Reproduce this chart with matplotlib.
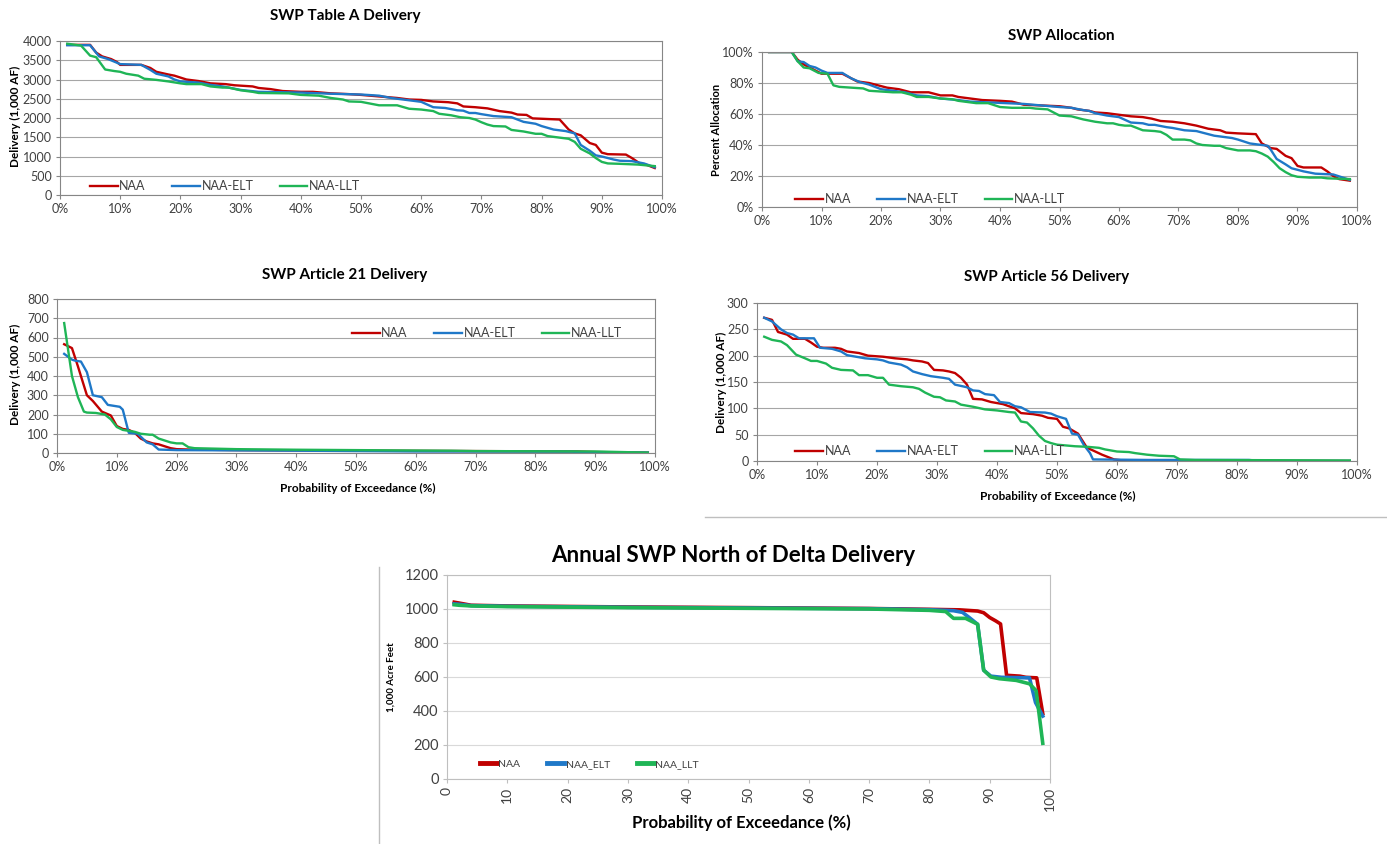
import matplotlib
matplotlib.use("Agg")
import matplotlib.pyplot as plt
from matplotlib.lines import Line2D
from matplotlib.ticker import FuncFormatter, MultipleLocator

plt.rcParams['font.family'] = ['Lato', 'DejaVu Sans']

RED = '#C00000'
BLUE = '#1F78C8'
GREEN = '#1FB556'
TICKC = '#404040'

# ---------------- Data: SWP Table A Delivery (1,000 AF) ----------------
ta_naa_x = [1.2, 5, 6, 7, 8.5, 9.5, 10, 13.5, 15, 16, 18, 19, 20, 21, 23, 25, 27.5, 29, 32, 33, 35, 37, 40, 42, 45, 48, 50, 53, 56, 58, 60, 62, 64.5, 66, 67, 69, 71, 73, 75, 76, 77.5, 78.5, 80, 83, 84.5, 85.5, 86.5, 88, 89, 90, 91, 94, 95, 96.5, 97.5, 98.8]
ta_naa_y = [3900, 3900, 3700, 3600, 3530, 3450, 3380, 3380, 3300, 3200, 3130, 3100, 3050, 3000, 2960, 2900, 2880, 2850, 2820, 2780, 2750, 2700, 2680, 2680, 2640, 2620, 2600, 2560, 2520, 2480, 2470, 2430, 2410, 2380, 2300, 2280, 2250, 2180, 2140, 2090, 2080, 1990, 1980, 1960, 1700, 1600, 1550, 1350, 1300, 1100, 1060, 1050, 960, 800, 780, 700]
ta_elt_x = [1.2, 5, 6.5, 8, 10, 13.5, 15, 16, 18, 19, 20, 23, 25, 27, 30, 33, 40, 45, 50, 53, 55, 58, 60, 62, 64, 66, 67, 68, 69, 70, 72, 75, 77, 79, 80, 82, 84, 85.5, 86.5, 88, 89, 90, 92, 93, 95, 97, 98.8]
ta_elt_y = [3890, 3890, 3600, 3530, 3400, 3380, 3250, 3150, 3080, 3000, 2950, 2920, 2860, 2820, 2730, 2680, 2660, 2630, 2610, 2580, 2520, 2460, 2420, 2280, 2260, 2200, 2190, 2130, 2130, 2100, 2050, 2020, 1900, 1850, 1790, 1700, 1660, 1600, 1300, 1150, 1030, 1000, 920, 890, 880, 820, 720]
ta_llt_x = [1.2, 3.5, 5, 6, 7.5, 9, 10, 11, 13, 14, 16, 18, 20, 21, 23.5, 25, 27, 28, 30, 32, 33, 38, 40, 43, 45, 47, 48, 50, 52, 53, 56, 58, 60, 61, 62, 63, 65, 66.5, 68, 69, 70, 71, 72, 74, 75, 77, 79, 80, 81, 83, 84.5, 85.5, 86.5, 88, 89, 90, 91, 93, 96, 98.8]
ta_llt_y = [3930, 3880, 3620, 3580, 3260, 3220, 3200, 3150, 3100, 3020, 2990, 2950, 2900, 2880, 2880, 2820, 2790, 2790, 2720, 2680, 2650, 2640, 2600, 2580, 2520, 2480, 2430, 2420, 2360, 2330, 2330, 2240, 2220, 2200, 2180, 2110, 2070, 2020, 2000, 1960, 1890, 1830, 1790, 1780, 1690, 1650, 1590, 1590, 1530, 1490, 1460, 1380, 1200, 1080, 960, 860, 820, 810, 790, 750]

# ---------------- Data: SWP Allocation (%) ----------------
al_naa_x = [1.2, 5, 6, 7, 8, 9.5, 10, 13.5, 15, 16, 18, 19, 20, 21, 23, 25, 28, 30, 32, 33, 35, 37, 40, 42, 44, 47, 50, 52, 53, 55, 56, 58, 60, 62, 64, 65.5, 67, 69, 71, 73, 75, 77, 78, 80, 83, 84, 85.5, 86.5, 88, 89, 90, 91, 94, 95, 96, 97, 98.8]
al_naa_y = [100, 100, 95, 92, 90, 87, 86, 86, 83, 81, 80, 79, 78, 77, 76, 74, 74, 72, 72, 71, 70, 69, 68.5, 68, 66, 65.5, 65, 64, 63, 62, 61, 60.5, 59.5, 58.5, 58, 57, 55.5, 55, 54, 52.5, 50.5, 49.5, 48, 47.5, 47, 41, 38, 37.5, 33, 31.5, 26.5, 25.5, 25.5, 23, 20, 18, 17]
al_elt_x = [1.2, 5, 6, 7, 8, 9, 10, 11, 13.5, 15, 16.5, 18, 20, 22, 24, 26, 28, 30, 33, 35, 38, 41, 44, 47, 50, 52, 54, 55, 56, 58, 60, 62, 64, 65, 66, 68, 69, 71, 73, 74, 76, 78, 79, 80, 82, 84, 85, 85.5, 86.5, 88, 89, 91, 93, 96, 98.8]
al_elt_y = [100, 100, 94, 93.5, 91, 90, 88, 86.5, 86.5, 83, 80.5, 79, 76, 75, 74, 72, 71.5, 70, 69, 68, 67.5, 67, 66.5, 65.5, 64.5, 64, 62.5, 62, 60.5, 59, 58, 54.5, 54, 53, 53, 51.5, 51, 49.5, 49, 48, 46, 45, 44.5, 43.5, 41, 40, 39.5, 37, 31, 27.5, 25, 23, 21.5, 21, 17.5]
al_llt_x = [1.2, 5, 6, 7, 8, 9.5, 11, 12, 13, 15, 17, 18, 20, 22, 23.5, 25, 26, 28, 30, 32, 33, 35, 36, 38, 40, 42, 45, 46, 48, 49, 50, 52, 54, 56, 58, 59, 60, 61, 62, 63, 64, 66, 67, 68, 69, 71, 72, 73, 74, 76, 77, 78, 80, 82, 83, 84, 85, 86, 87, 88, 89, 90, 92, 94, 95, 98.8]
al_llt_y = [100, 100, 94, 90, 89.5, 86.5, 86, 78.5, 77.5, 77, 76.5, 75, 74.5, 74, 74, 72.5, 71, 71, 70, 69.5, 68.5, 67.5, 67, 67, 64.5, 64, 64, 63.5, 63, 61, 59, 58.5, 56.5, 55, 54, 54, 53, 52.5, 52.5, 51, 49.5, 49, 48.5, 46.5, 43.5, 43.5, 43, 41, 40, 39.5, 39.5, 38, 36.5, 36.5, 36, 34.5, 32.5, 29, 25, 22.5, 20.5, 19.5, 19, 19, 18.5, 18]

# ---------------- Data: SWP Article 21 Delivery (1,000 AF) ----------------
a21_naa_x = [1.2, 2.5, 3.5, 5, 6, 7.5, 9, 10, 11, 12, 13, 14, 15, 16, 17, 18, 19, 20, 22, 30, 50, 70, 87, 90, 98.8]
a21_naa_y = [565, 545, 450, 300, 270, 215, 195, 140, 125, 120, 105, 75, 60, 50, 45, 35, 25, 20, 18, 15, 12, 10, 8, 5, 2]
a21_elt_x = [1.2, 2.5, 3, 4, 5, 6, 7.5, 8.5, 9.5, 10.5, 11, 12, 13.5, 15, 16, 17, 20, 40, 50, 60, 86, 88, 98.8]
a21_elt_y = [515, 485, 480, 475, 420, 300, 290, 250, 245, 240, 225, 105, 100, 55, 45, 18, 15, 12, 10, 8, 7, 4, 2]
a21_llt_x = [1.2, 2.5, 3.5, 4.5, 5, 6.5, 8, 9, 10, 11, 12, 13, 14, 15.5, 16, 17, 18, 19, 20, 21, 22, 23, 30, 40, 50, 60, 66, 70, 90, 98.8]
a21_llt_y = [675, 400, 290, 215, 210, 208, 200, 175, 135, 120, 115, 110, 100, 95, 95, 75, 65, 55, 50, 50, 30, 25, 20, 17, 15, 13, 12, 10, 8, 2]

# ---------------- Data: SWP Article 56 Delivery (1,000 AF) ----------------
a56_naa_x = [1.2, 2.5, 3.5, 5, 6, 8, 9, 10, 11, 13, 14, 15, 17, 18.5, 21, 23, 25, 26, 27.5, 28.5, 29.5, 31, 32, 33, 34, 35, 36, 37.5, 39, 41, 42, 43, 44, 46, 47.5, 48.5, 50, 51, 52, 53.5, 55, 56, 57.5, 59.5, 61, 98.8]
a56_naa_y = [272, 268, 245, 240, 232, 232, 225, 217, 215, 215, 213, 208, 205, 200, 198, 195, 193, 191, 189, 186, 173, 172, 170, 167, 158, 145, 118, 117, 112, 108, 104, 100, 91, 89, 86, 82, 80, 65, 62, 52, 25, 20, 12, 3, 1, 0]
a56_elt_x = [1.2, 2.5, 4, 5, 6, 7, 9.5, 10.5, 12.5, 14, 15, 16.5, 18, 20, 21, 22, 24, 25, 26, 27.5, 29, 31, 32, 33, 35, 36, 37, 38, 39.5, 40.5, 42, 43, 44, 45.5, 48, 49, 50, 51.5, 52.5, 53.5, 54.5, 55.5, 56, 65, 82, 84, 98.8]
a56_elt_y = [272, 265, 250, 243, 240, 233, 233, 215, 213, 208, 201, 198, 195, 193, 191, 187, 183, 178, 170, 165, 161, 158, 156, 145, 140, 134, 133, 127, 125, 112, 110, 104, 102, 93, 92, 90, 85, 80, 52, 50, 30, 15, 3, 2, 2, 0, 0]
a56_llt_x = [1.2, 2.5, 4, 5, 6.5, 8, 9, 10, 11.5, 12.5, 14, 16, 17, 18.5, 20, 21, 22, 24, 26, 27, 28, 29.5, 30.5, 31.5, 33, 34, 36, 38, 40, 42, 43, 44, 45, 46, 47, 48, 49, 50, 51, 53, 55, 57, 58, 60, 62, 63, 65, 67, 69.5, 70.5, 73, 98.8]
a56_llt_y = [236, 230, 227, 220, 202, 195, 190, 190, 185, 177, 173, 172, 163, 163, 158, 158, 145, 142, 140, 137, 130, 122, 121, 115, 113, 107, 103, 98, 96, 93, 92, 75, 73, 62, 48, 38, 34, 31, 30, 28, 27, 25, 22, 18, 17, 15, 12, 10, 9, 3, 2, 1]

# ---------------- Data: Annual SWP North of Delta Delivery (1,000 AF) ----------------
nod_naa_x = [1.2, 2, 4, 10, 30, 50, 70, 80, 85, 88, 89, 90, 91, 91.8, 92.8, 95, 96, 97.8, 98.8]
nod_naa_y = [1040, 1035, 1022, 1018, 1012, 1008, 1003, 998, 995, 988, 978, 950, 930, 912, 610, 605, 598, 595, 385]
nod_elt_x = [1.2, 2, 4, 10, 30, 50, 70, 80, 84, 85.5, 86.6, 88, 89, 90.2, 92, 96.6, 97.6, 98.8]
nod_elt_y = [1030, 1028, 1020, 1016, 1010, 1006, 1002, 996, 990, 980, 950, 910, 640, 605, 598, 595, 450, 370]
nod_llt_x = [1.2, 2, 4, 10, 30, 50, 70, 80, 82.7, 84, 86, 88, 89, 90.2, 91.6, 94.4, 96.6, 97.7, 98.8]
nod_llt_y = [1025, 1022, 1018, 1014, 1008, 1004, 1000, 992, 985, 945, 945, 910, 640, 600, 590, 580, 560, 520, 210]

W, H = 1387, 844
fig = plt.figure(figsize=(W / 100, H / 100), dpi=100)
fig.patch.set_facecolor('white')


def add_ax(l, t, r, b):
    return fig.add_axes([l / W, 1 - b / H, (r - l) / W, (b - t) / H])


def style(ax, grid_c='#A6A6A6', spine_c='#868686', lw=0.8):
    for s in ax.spines.values():
        s.set_color(spine_c)
        s.set_linewidth(lw)
    ax.grid(axis='y', color=grid_c, linewidth=0.8)
    ax.set_axisbelow(True)
    ax.tick_params(axis='both', direction='out', length=3, width=0.8,
                   color=spine_c, labelcolor=TICKC, labelsize=9, pad=3)


def ftext(x, y, s, **kw):
    fig.text(x / W, 1 - y / H, s, **kw)


def legend(ax, handles, labels, x, y, fs=9, hl=2.2, cs=2.1):
    ax.legend(handles, labels, loc='center left',
              bbox_to_anchor=(x / W, 1 - y / H), bbox_transform=fig.transFigure,
              ncol=3, frameon=False, fontsize=fs, handlelength=hl,
              handletextpad=0.15, columnspacing=cs, borderpad=0, borderaxespad=0,
              labelcolor=TICKC)


pct = FuncFormatter(lambda v, p: f"{int(round(v))}%")

series_cols = [RED, BLUE, GREEN]

# ---- Panel 1: Table A ----
ax1 = add_ax(60, 41, 662, 195)
style(ax1)
for xs, ys, c in [(ta_naa_x, ta_naa_y, RED), (ta_elt_x, ta_elt_y, BLUE), (ta_llt_x, ta_llt_y, GREEN)]:
    ax1.plot(xs, ys, color=c, lw=1.7)
ax1.set_xlim(0, 100)
ax1.set_ylim(0, 4000)
ax1.yaxis.set_major_locator(MultipleLocator(500))
ax1.xaxis.set_major_locator(MultipleLocator(10))
ax1.xaxis.set_major_formatter(pct)
legend(ax1, ax1.get_lines(), ['NAA', 'NAA-ELT', 'NAA-LLT'], 90, 186)
ftext(345, 16, 'SWP Table A Delivery', ha='center', va='center', fontsize=11, fontweight='bold')
ftext(15, 116, 'Delivery (1,000 AF)', ha='center', va='center', rotation=90, fontsize=8.5, fontweight='bold')

# ---- Panel 2: Allocation ----
ax2 = add_ax(762, 52, 1357, 207)
style(ax2)
for xs, ys, c in [(al_naa_x, al_naa_y, RED), (al_elt_x, al_elt_y, BLUE), (al_llt_x, al_llt_y, GREEN)]:
    ax2.plot(xs, ys, color=c, lw=1.7)
ax2.set_xlim(0, 100)
ax2.set_ylim(0, 100)
ax2.yaxis.set_major_locator(MultipleLocator(20))
ax2.yaxis.set_major_formatter(pct)
ax2.xaxis.set_major_locator(MultipleLocator(10))
ax2.xaxis.set_major_formatter(pct)
legend(ax2, ax2.get_lines(), ['NAA', 'NAA-ELT', 'NAA-LLT'], 795, 199)
ftext(1061, 36, 'SWP Allocation', ha='center', va='center', fontsize=11, fontweight='bold')
ftext(716, 130, 'Percent Allocation', ha='center', va='center', rotation=90, fontsize=8, fontweight='bold')

# ---- Panel 3: Article 21 ----
ax3 = add_ax(57, 299, 655, 453)
style(ax3)
for xs, ys, c in [(a21_naa_x, a21_naa_y, RED), (a21_elt_x, a21_elt_y, BLUE), (a21_llt_x, a21_llt_y, GREEN)]:
    ax3.plot(xs, ys, color=c, lw=1.7)
ax3.set_xlim(0, 100)
ax3.set_ylim(0, 800)
ax3.yaxis.set_major_locator(MultipleLocator(100))
ax3.xaxis.set_major_locator(MultipleLocator(10))
ax3.xaxis.set_major_formatter(pct)
legend(ax3, ax3.get_lines(), ['NAA', 'NAA-ELT', 'NAA-LLT'], 352, 333)
ftext(345, 275, 'SWP Article 21 Delivery', ha='center', va='center', fontsize=11, fontweight='bold')
ftext(15, 374, 'Delivery (1,000 AF)', ha='center', va='center', rotation=90, fontsize=8.5, fontweight='bold')
ftext(358, 488, 'Probability of Exceedance (%)', ha='center', va='center', fontsize=8.5, fontweight='bold')

# ---- Panel 4: Article 56 ----
ax4 = add_ax(757, 303, 1357, 461)
style(ax4)
for xs, ys, c in [(a56_naa_x, a56_naa_y, RED), (a56_elt_x, a56_elt_y, BLUE), (a56_llt_x, a56_llt_y, GREEN)]:
    ax4.plot(xs, ys, color=c, lw=1.7)
ax4.set_xlim(0, 100)
ax4.set_ylim(0, 300)
ax4.yaxis.set_major_locator(MultipleLocator(50))
ax4.xaxis.set_major_locator(MultipleLocator(10))
ax4.xaxis.set_major_formatter(pct)
legend(ax4, ax4.get_lines(), ['NAA', 'NAA-ELT', 'NAA-LLT'], 795, 451)
ftext(1047, 277, 'SWP Article 56 Delivery', ha='center', va='center', fontsize=11, fontweight='bold')
ftext(721, 382, 'Delivery (1,000 AF)', ha='center', va='center', rotation=90, fontsize=8.5, fontweight='bold')
ftext(1058, 496, 'Probability of Exceedance (%)', ha='center', va='center', fontsize=8.5, fontweight='bold')

# ---- Panel 5: North of Delta ----
ax5 = add_ax(447, 575, 1050, 779)
style(ax5, grid_c='#D9D9D9', spine_c='#BFBFBF')
for xs, ys, c in [(nod_naa_x, nod_naa_y, RED), (nod_elt_x, nod_elt_y, BLUE), (nod_llt_x, nod_llt_y, GREEN)]:
    ax5.plot(xs, ys, color=c, lw=2.6)
ax5.set_xlim(0, 100)
ax5.set_ylim(0, 1200)
ax5.yaxis.set_major_locator(MultipleLocator(200))
ax5.xaxis.set_major_locator(MultipleLocator(10))
ax5.tick_params(axis='y', labelsize=10.5)
ax5.tick_params(axis='x', labelsize=10, labelrotation=90)
legend(ax5, [Line2D([], [], color=c, lw=3.5) for c in series_cols],
       ['NAA', 'NAA_ELT', 'NAA_LLT'], 480, 764, fs=7.5, hl=1.6, cs=2.6)
ftext(733, 556, 'Annual SWP North of Delta Delivery', ha='center', va='center', fontsize=16, fontweight='bold')
ftext(391, 677, '1,000 Acre Feet', ha='center', va='center', rotation=90, fontsize=7, fontweight='bold')
ftext(741, 823, 'Probability of Exceedance (%)', ha='center', va='center', fontsize=12, fontweight='bold')

# separators
fig.add_artist(Line2D([705 / W, 1], [1 - 517 / H, 1 - 517 / H], color='#BFBFBF', lw=1))
fig.add_artist(Line2D([379 / W, 379 / W], [1 - 567 / H, 0], color='#BFBFBF', lw=1))

fig.savefig('out.png', dpi=100)
